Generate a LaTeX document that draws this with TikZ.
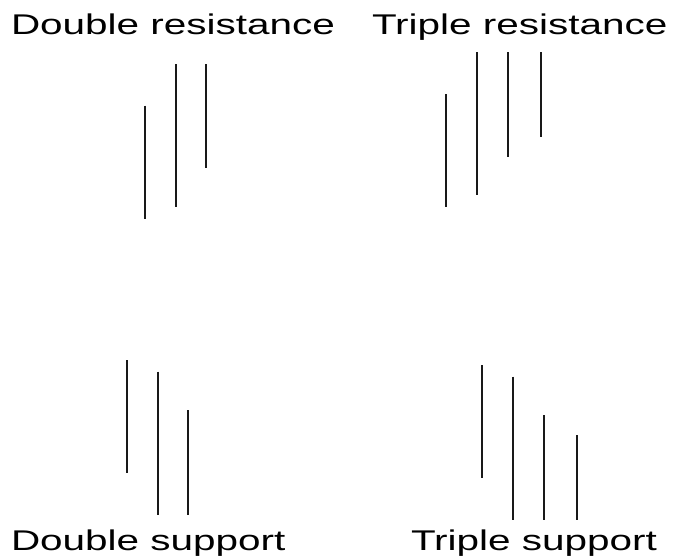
\documentclass[tikz,border=0pt]{standalone}
\usepackage{fontspec}
\setmainfont{Liberation Sans}
\newcommand{\widetext}[1]{\scalebox{1.42}[1]{\fontsize{28.5}{28.5}\selectfont #1}}
\begin{document}
\begin{tikzpicture}[x=1pt,y=-1pt,
  bar/.style={line width=2pt,color=black!90},
  lbl/.style={anchor=base west,inner sep=0pt,outer sep=0pt}]
\useasboundingbox (0,0) rectangle (674,557);
% labels
\node[lbl] (dr) at (11,34) {\widetext{Double resistance}};
\node[lbl] (tr) at (372,34) {\widetext{Triple resistance}};
\node[lbl] (ds) at (11,550.5) {\widetext{Double support}};
\node[lbl] (ts) at (411,550.5) {\widetext{Triple support}};
% double resistance
\draw[bar] (145,105.7) -- (145,219);
\draw[bar] (175.7,64) -- (175.7,206.7);
\draw[bar] (206.3,64) -- (206.3,168.3);
% triple resistance
\draw[bar] (446.3,94) -- (446.3,206.7);
\draw[bar] (477.3,52.3) -- (477.3,195.3);
\draw[bar] (508,52.3) -- (508,157.3);
\draw[bar] (541,52.3) -- (541,137.3);
% double support
\draw[bar] (127.3,360) -- (127.3,473.3);
\draw[bar] (158,371.7) -- (158,514.7);
\draw[bar] (188.3,410) -- (188.3,514.7);
% triple support
\draw[bar] (482.3,365) -- (482.3,478.3);
\draw[bar] (513,376.7) -- (513,519.7);
\draw[bar] (543.7,415) -- (543.7,519.7);
\draw[bar] (577,435) -- (577,519.7);
\end{tikzpicture}
\end{document}
